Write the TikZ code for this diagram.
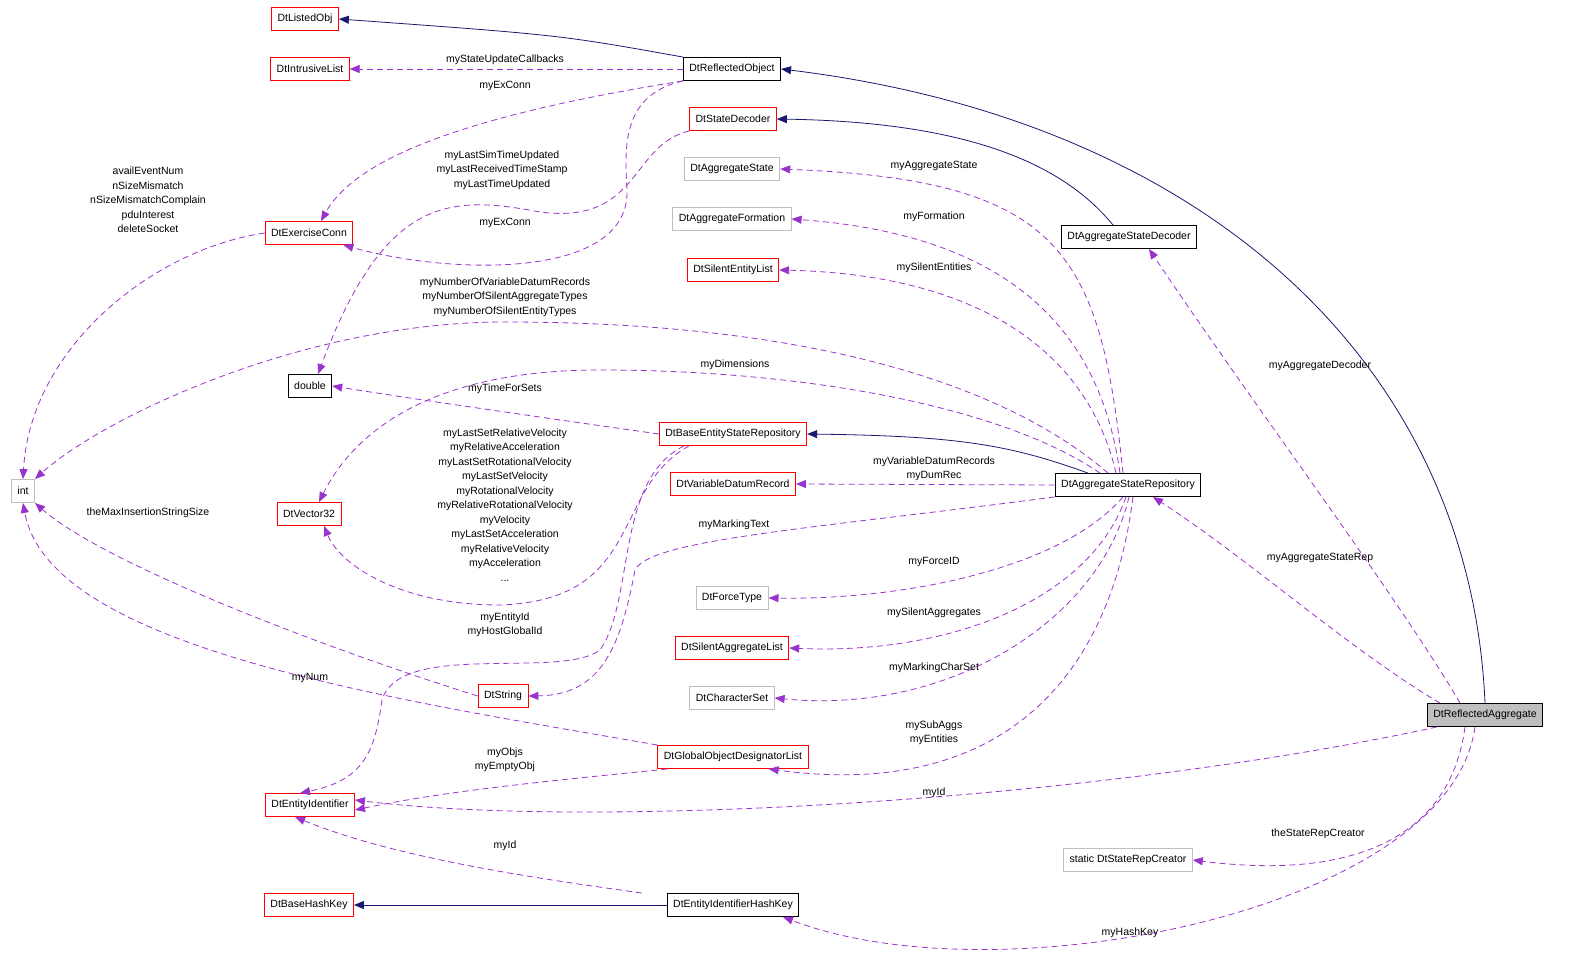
\documentclass[tikz,border=0pt]{standalone}
\usepackage{fontspec}
\setmainfont{Liberation Sans}
\usetikzlibrary{arrows.meta}
\definecolor{pur}{HTML}{9A32CD}
\definecolor{nav}{HTML}{191970}
\definecolor{gr}{HTML}{BFBFBF}
\begin{document}
\begin{tikzpicture}[x=1pt,y=-1pt,
  font=\fontsize{10.5}{14.5}\selectfont,
  box/.style={draw,line width=0.9pt,minimum height=23pt,inner xsep=6pt,inner ysep=0pt,anchor=center},
  rb/.style={box,draw=red},
  gb/.style={box,draw=gr},
  bb/.style={box,draw=black},
  inh/.style={draw=nav,line width=0.8pt,-{Triangle[length=10pt,width=8pt]}},
  mem/.style={draw=pur,line width=0.8pt,dash pattern=on 6pt off 4pt,-{Triangle[length=10pt,width=8pt]}},
  lab/.style={align=center,inner sep=0pt,font=\fontsize{10.5}{14.5}\selectfont}]
\useasboundingbox (0,0) rectangle (1571,964);
% nodes
\node[rb] (listed) at (305,19) {DtListedObj};
\node[rb] (intr) at (310,69) {DtIntrusiveList};
\node[bb] (robj) at (732,69) {DtReflectedObject};
\node[rb] (sdec) at (733,119) {DtStateDecoder};
\node[gb] (ast) at (732,169) {DtAggregateState};
\node[gb] (afo) at (732,219) {DtAggregateFormation};
\node[rb] (sel) at (733,270) {DtSilentEntityList};
\node[rb] (exc) at (309,233) {DtExerciseConn};
\node[bb] (dbl) at (310,386) {double};
\node[gb] (int) at (23,491) {int};
\node[rb] (bes) at (733,434) {DtBaseEntityStateRepository};
\node[rb] (vdr) at (733,484) {DtVariableDatumRecord};
\node[rb] (vec) at (309,514) {DtVector32};
\node[gb] (ft) at (732,598) {DtForceType};
\node[rb] (sal) at (732,648) {DtSilentAggregateList};
\node[rb] (str) at (503,696) {DtString};
\node[gb] (cs) at (732,698) {DtCharacterSet};
\node[rb] (gods) at (733,757) {DtGlobalObjectDesignatorList};
\node[rb] (eid) at (310,805) {DtEntityIdentifier};
\node[rb] (bhk) at (309,905) {DtBaseHashKey};
\node[bb] (eihk) at (733,905) {DtEntityIdentifierHashKey};
\node[bb] (asd) at (1129,237) {DtAggregateStateDecoder};
\node[bb] (asr) at (1128,485) {DtAggregateStateRepository};
\node[box,draw=black,fill=gr] (ra) at (1485,715) {DtReflectedAggregate};
\node[gb] (src) at (1128,860) {static DtStateRepCreator};
% inheritance
\draw[inh] (robj.north west) .. controls (560,35) .. (listed.east);
\draw[inh] ([xshift=-16pt]asd.north) .. controls (1060,160) and (960,122) .. (sdec.east);
\draw[inh] (ra.north) .. controls (1470,360) and (1200,120) .. (robj.east);
\draw[inh] ([xshift=-40pt]asr.north) .. controls (1010,445) and (960,436) .. (bes.east);
\draw[inh] (eihk.west) -- (bhk.east);
% members
\draw[mem] (robj.west) -- (intr.east);
\node[lab] at (505,60) {myStateUpdateCallbacks};
\draw[mem] (robj.south west) .. controls (500,110) and (360,150) .. ([xshift=12pt]exc.north);
\node[lab] at (505,86) {myExConn};
\draw[mem] (robj.south west) .. controls (620,95) and (625,150) .. (627,190) .. controls (630,280) and (450,275) .. ([xshift=-10pt]exc.south east);
\node[lab] at (505,223) {myExConn};
\draw[mem] (sdec.south west) .. controls (630,145) and (640,225) .. (540,212) .. controls (450,195) and (385,195) .. ([xshift=8pt]dbl.north);
\node[lab] at (502,170) {myLastSimTimeUpdated\\myLastReceivedTimeStamp\\myLastTimeUpdated};
\draw[mem] (exc.west) .. controls (150,250) and (30,350) .. (int.north);
\node[lab] at (148,200) {availEventNum\\nSizeMismatch\\nSizeMismatchComplain\\pduInterest\\deleteSocket};
\draw[mem] ([xshift=-5pt]asr.north) .. controls (1100,250) and (1060,180) .. (ast.east);
\node[lab] at (934,166) {myAggregateState};
\draw[mem] ([xshift=-8pt]asr.north) .. controls (1100,330) and (1010,235) .. (afo.east);
\node[lab] at (934,217) {myFormation};
\draw[mem] ([xshift=-12pt]asr.north) .. controls (1090,360) and (990,275) .. (sel.east);
\node[lab] at (934,268) {mySilentEntities};
\draw[mem] ([xshift=-20pt]asr.north) .. controls (1000,380) and (800,322) .. (505,322) .. controls (300,322) and (100,420) .. (int.north east);
\node[lab] at (505,297) {myNumberOfVariableDatumRecords\\myNumberOfSilentAggregateTypes\\myNumberOfSilentEntityTypes};
\draw[mem] ([xshift=-28pt]asr.north) .. controls (1000,405) and (800,370) .. (600,370) .. controls (420,370) and (350,440) .. ([xshift=10pt]vec.north);
\node[lab] at (735,365) {myDimensions};
\draw[mem] (bes.west) .. controls (560,420) and (420,400) .. (dbl.east);
\node[lab] at (505,389) {myTimeForSets};
\draw[mem] (asr.west) -- (vdr.east);
\node[lab] at (934,469) {myVariableDatumRecords\\myDumRec};
\draw[mem] (asr.south west) .. controls (800,530) and (650,540) .. (635,570) .. controls (620,650) and (600,695) .. (str.east);
\node[lab] at (734,525) {myMarkingText};
\draw[mem] ([xshift=30pt]bes.south west) .. controls (610,490) and (645,600) .. (500,605) .. controls (400,605) and (340,565) .. ([xshift=15pt]vec.south);
\node[lab] at (505,505) {myLastSetRelativeVelocity\\myRelativeAcceleration\\myLastSetRotationalVelocity\\myLastSetVelocity\\myRotationalVelocity\\myRelativeRotationalVelocity\\myVelocity\\myLastSetAcceleration\\myRelativeVelocity\\myAcceleration\\...};
\draw[mem] ([xshift=25pt]bes.south west) .. controls (615,480) and (635,600) .. (600,650) .. controls (560,680) and (400,640) .. (382,700) .. controls (375,750) and (365,780) .. ([xshift=35pt]eid.north west);
\node[lab] at (505,625) {myEntityId\\myHostGlobalId};
\draw[mem] (str.west) .. controls (300,640) and (100,560) .. (int.south east);
\node[lab] at (148,513) {theMaxInsertionStringSize};
\draw[mem] (gods.north west) .. controls (400,700) and (50,650) .. (int.south);
\node[lab] at (310,678) {myNum};
\draw[mem] ([xshift=10pt]gods.south west) .. controls (560,780) and (450,790) .. ([yshift=-5pt]eid.east);
\node[lab] at (505,760) {myObjs\\myEmptyObj};
\draw[mem] ([xshift=-5pt]asr.south) .. controls (1060,570) and (900,600) .. (ft.east);
\node[lab] at (934,562) {myForceID};
\draw[mem] ([xshift=-2pt]asr.south) .. controls (1090,600) and (950,655) .. (sal.east);
\node[lab] at (934,613) {mySilentAggregates};
\draw[mem] ([xshift=1pt]asr.south) .. controls (1100,620) and (950,715) .. (cs.east);
\node[lab] at (934,668) {myMarkingCharSet};
\draw[mem] ([xshift=5pt]asr.south) .. controls (1110,680) and (1000,800) .. ([xshift=-40pt]gods.south east);
\node[lab] at (934,733) {mySubAggs\\myEntities};
\draw[mem] ([xshift=-25pt]ra.north) .. controls (1400,600) and (1250,400) .. ([xshift=20pt]asd.south);
\node[lab] at (1320,366) {myAggregateDecoder};
\draw[mem] ([xshift=-45pt]ra.north) .. controls (1350,650) and (1250,560) .. ([xshift=25pt]asr.south);
\node[lab] at (1320,558) {myAggregateStateRep};
\draw[mem] ([xshift=10pt]ra.south west) .. controls (1100,800) and (600,830) .. ([yshift=5pt]eid.east);
\node[lab] at (934,793) {myId};
\draw[mem] ([xshift=-25pt]eihk.north west) .. controls (550,880) and (400,860) .. ([xshift=30pt]eid.south west);
\node[lab] at (505,846) {myId};
\draw[mem] ([xshift=-20pt]ra.south) .. controls (1450,840) and (1350,880) .. (src.east);
\node[lab] at (1318,834) {theStateRepCreator};
\draw[mem] ([xshift=-10pt]ra.south) .. controls (1450,910) and (1000,1000) .. ([xshift=50pt]eihk.south);
\node[lab] at (1130,933) {myHashKey};
\end{tikzpicture}
\end{document}
